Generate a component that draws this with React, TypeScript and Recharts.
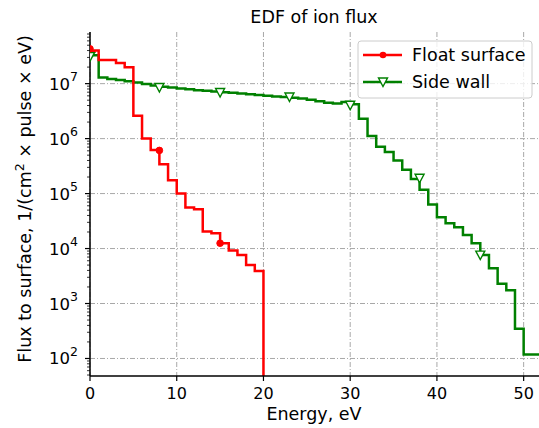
import React from 'react';
import { LineChart, Line, XAxis, YAxis, CartesianGrid } from 'recharts';

// Float surface (step histogram, each value holds until the next energy)
const floatEnergy = [0, 0.5, 1, 2, 3, 4, 5, 6, 7, 8, 9, 10, 11, 12, 13, 14, 15, 16, 17, 18, 19, 20];
const floatFlux = [
  3.8e7, 4.0e7, 2.7e7, 2.7e7, 2.37e7, 1.98e7, 2.6e6, 1.0e6, 6.2e5, 3.4e5, 1.74e5, 1.0e5,
  5.6e4, 5.2e4, 2.04e4, 1.9e4, 1.25e4, 9.2e3, 7.6e3, 5.0e3, 3.9e3, 1,
];

// Side wall
const wallEnergy = [
  0, 1, 2, 3, 4, 5, 6, 7, 8, 9, 10, 11, 12, 13, 14, 15, 16, 17, 18, 19, 20, 21, 22, 23, 24, 25,
  26, 27, 28, 29, 30, 31, 32, 33, 34, 35, 36, 37, 38, 39, 40, 41, 42, 43, 44, 45, 46, 47, 48, 49,
  50, 51, 52,
];
const wallFlux = [
  3.3e7, 1.3e7, 1.22e7, 1.16e7, 1.1e7, 1.05e7, 9.9e6, 9.3e6, 8.8e6, 8.5e6, 8.2e6, 7.9e6, 7.6e6,
  7.4e6, 7.2e6, 7.0e6, 6.8e6, 6.6e6, 6.4e6, 6.2e6, 6.0e6, 5.85e6, 5.7e6, 5.55e6, 5.35e6, 5.1e6,
  4.8e6, 4.5e6, 4.35e6, 4.65e6, 4.2e6, 2.3e6, 1.11e6, 7.1e5, 5.7e5, 4.0e5, 2.7e5, 1.85e5, 1.18e5,
  6.3e4, 3.7e4, 2.9e4, 2.45e4, 1.77e4, 1.25e4, 7.6e3, 4.4e3, 2.3e3, 1.75e3, 349, 118, 118, 118,
];

// marker positions
const floatMarkEnergy = [0, 8, 15];
const floatMarkFlux = [4.3e7, 6.1e5, 1.25e4];
const wallMarkEnergy = [0, 8, 15, 23, 30, 38, 45];
const wallMarkFlux = [3.1e7, 8.5e6, 6.9e6, 5.7e6, 4.05e6, 1.9e5, 7.6e3];

const xTicks = [0, 10, 20, 30, 40, 50];
const yMajor = [1e2, 1e3, 1e4, 1e5, 1e6, 1e7];
const yMinor = [1, 2, 3, 4, 5, 6, 7]
  .flatMap((e) => [2, 3, 4, 5, 6, 7, 8, 9].map((m) => m * Math.pow(10, e)))
  .filter((v) => v >= 48 && v <= 8.7e7);

const zip = (xs: number[], ys: number[]) => xs.map((x, i) => ({ x, y: ys[i] }));
const floatData = zip(floatEnergy, floatFlux);
const wallData = zip(wallEnergy, wallFlux);
const floatMarks = zip(floatMarkEnergy, floatMarkFlux);
const wallMarks = zip(wallMarkEnergy, wallMarkFlux);

const FONT = 'DejaVu Sans';

const YTick = (props: any) => {
  const { x, y, payload } = props;
  const v = payload.value;
  const e = Math.round(Math.log10(v));
  const major = Math.abs(Math.log10(v) - e) < 1e-6;
  const ax = x + 7;
  return (
    <g>
      <line x1={ax - (major ? 5 : 3)} x2={ax} y1={y} y2={y} stroke="#000" strokeWidth={major ? 1.2 : 0.8} />
      {major && (
        <text x={ax - 12} y={y + 6} textAnchor="end" fontSize={16.5} fontFamily={FONT} fill="#000">
          10<tspan fontSize={12.5} dy={-8.5}>{e}</tspan>
        </text>
      )}
    </g>
  );
};

const XTick = (props: any) => {
  const { x, y, payload } = props;
  return (
    <text x={x} y={y + 15.5} textAnchor="middle" fontSize={16} fontFamily={FONT} fill="#000">
      {payload.value}
    </text>
  );
};

const Dot = (props: any) => {
  const { cx, cy, index } = props;
  return <circle key={`d${index}`} cx={cx} cy={cy} r={3.3} fill="#ff0000" stroke="#ff0000" />;
};

const Tri = (props: any) => {
  const { cx, cy, index } = props;
  return (
    <path
      key={`t${index}`}
      d={`M${cx - 4.5},${cy - 4} L${cx + 4.5},${cy - 4} L${cx},${cy + 4.5} Z`}
      fill="#fff"
      stroke="#008000"
      strokeWidth={1.4}
    />
  );
};

export default function App() {
  return (
    <div style={{ position: 'absolute', left: 0, top: 0, width: 539, height: 428, overflow: 'hidden', background: '#fff' }}>
      <LineChart width={545} height={428} margin={{ top: 32, right: 4, bottom: 22, left: 30 }} style={{ fontFamily: FONT }}>
        <CartesianGrid
          stroke="#a8a8a8"
          strokeDasharray="5 2 1 2"
          strokeWidth={1}
          horizontalValues={yMajor}
          verticalValues={xTicks}
          yAxisId="y"
          xAxisId="x"
        />
        <XAxis
          xAxisId="x"
          type="number"
          dataKey="x"
          domain={[0, 52]}
          allowDataOverflow
          ticks={xTicks}
          interval={0}
          height={30}
          tickSize={5}
          tickMargin={2}
          tick={<XTick />}
          tickLine={{ stroke: '#000', strokeWidth: 1.2 }}
          axisLine={{ stroke: '#000', strokeWidth: 1.5 }}
        />
        <XAxis
          xAxisId="top"
          orientation="top"
          type="number"
          dataKey="x"
          domain={[0, 52]}
          height={0}
          tick={false}
          tickLine={false}
          axisLine={{ stroke: '#000', strokeWidth: 1.5 }}
        />
        <YAxis
          yAxisId="y"
          type="number"
          scale="log"
          domain={[48, 8.7e7]}
          allowDataOverflow
          ticks={[...yMajor, ...yMinor]}
          interval={0}
          width={60}
          tickSize={5}
          tickMargin={2}
          tickLine={false}
          tick={<YTick />}
          axisLine={{ stroke: '#000', strokeWidth: 1.5 }}
        />
        <Line
          xAxisId="x"
          yAxisId="y"
          data={wallData}
          dataKey="y"
          type="stepAfter"
          stroke="#008000"
          strokeWidth={2.5}
          dot={false}
          isAnimationActive={false}
        />
        <Line
          xAxisId="x"
          yAxisId="y"
          data={floatData}
          dataKey="y"
          type="stepAfter"
          stroke="#ff0000"
          strokeWidth={2.5}
          dot={false}
          isAnimationActive={false}
        />
        <Line
          xAxisId="x"
          yAxisId="y"
          data={wallMarks}
          dataKey="y"
          stroke="none"
          dot={<Tri />}
          isAnimationActive={false}
        />
        <Line
          xAxisId="x"
          yAxisId="y"
          data={floatMarks}
          dataKey="y"
          stroke="none"
          dot={<Dot />}
          isAnimationActive={false}
        />
      </LineChart>

      <svg width={539} height={428} style={{ position: 'absolute', left: 0, top: 0, pointerEvents: 'none' }} fontFamily={FONT}>
        <text x={314} y={23} textAnchor="middle" fontSize={17.5} fill="#000">EDF of ion flux</text>
        <text x={314} y={420} textAnchor="middle" fontSize={17.5} fill="#000">Energy, eV</text>
        <text
          x={0}
          y={0}
          transform="translate(31,199) rotate(-90)"
          textAnchor="middle"
          fontSize={17.5}
          fill="#000"
        >
          Flux to surface, 1/(cm<tspan fontSize={12.5} dy={-7}>2</tspan>
          <tspan dy={7}> × pulse × eV)</tspan>
        </text>
        <rect x={358} y={41} width={174} height={57} rx={3} fill="#fff" fillOpacity={0.8} stroke="#cccccc" />
        <line x1={363} x2={402} y1={55} y2={55} stroke="#ff0000" strokeWidth={2.5} />
        <circle cx={383} cy={55} r={3.3} fill="#ff0000" />
        <text x={412} y={61} fontSize={17.5} fill="#000">Float surface</text>
        <line x1={363} x2={402} y1={82} y2={82} stroke="#008000" strokeWidth={2.5} />
        <path d="M378.5,78 L387.5,78 L383,86.5 Z" fill="#fff" stroke="#008000" strokeWidth={1.4} />
        <text x={412} y={88} fontSize={17.5} fill="#000">Side wall</text>
      </svg>
    </div>
  );
}
